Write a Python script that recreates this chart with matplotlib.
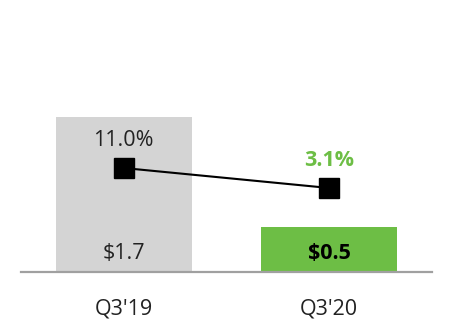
import matplotlib.pyplot as plt

plt.rcParams['font.family'] = ['Open Sans', 'DejaVu Sans']

quarters = ["Q3'19", "Q3'20"]
amounts = [1.7, 0.5]
amount_labels = ["$1.7", "$0.5"]
margins = [11.0, 3.1]
margin_labels = ["11.0%", "3.1%"]

gray = '#d4d4d4'
green = '#6dbe45'

fig = plt.figure(figsize=(4.52, 3.32), dpi=100)
ax = fig.add_axes([21 / 452, 60 / 332, 411 / 452, 252 / 332])
x = range(len(quarters))

ax.bar(x, amounts, width=0.66, color=[gray, green], zorder=1)
ax.set_xlim(-0.5, 1.5)
ax.set_ylim(0, 2.77)

# bar value labels sit near the bottom of each bar
ax.text(0, 0.2, amount_labels[0], ha='center', va='center', fontsize=15.5, color='#222222')
ax.text(1, 0.2, amount_labels[1], ha='center', va='center', fontsize=15.5,
        fontweight='bold', color='black')

for s in ['top', 'right', 'left']:
    ax.spines[s].set_visible(False)
ax.spines['bottom'].set_color('#a0a0a0')
ax.spines['bottom'].set_linewidth(1.6)
ax.set_yticks([])
ax.set_xticks(list(x))
ax.set_xticklabels(quarters, fontsize=15.5, color='#222222')
ax.tick_params(axis='x', length=0, pad=19)

ax2 = ax.twinx()
ax2.set_ylim(-30.1, 69.5)
ax2.plot(x, margins, color='black', lw=1.5, marker='s', markersize=15, zorder=3)
ax2.text(0, margins[0] + 11, margin_labels[0], ha='center', va='center',
         fontsize=15.5, color='#222222')
ax2.text(1, margins[1] + 11, margin_labels[1], ha='center', va='center',
         fontsize=15.5, fontweight='bold', color=green)
ax2.axis('off')

fig.savefig('out.png', dpi=100)
